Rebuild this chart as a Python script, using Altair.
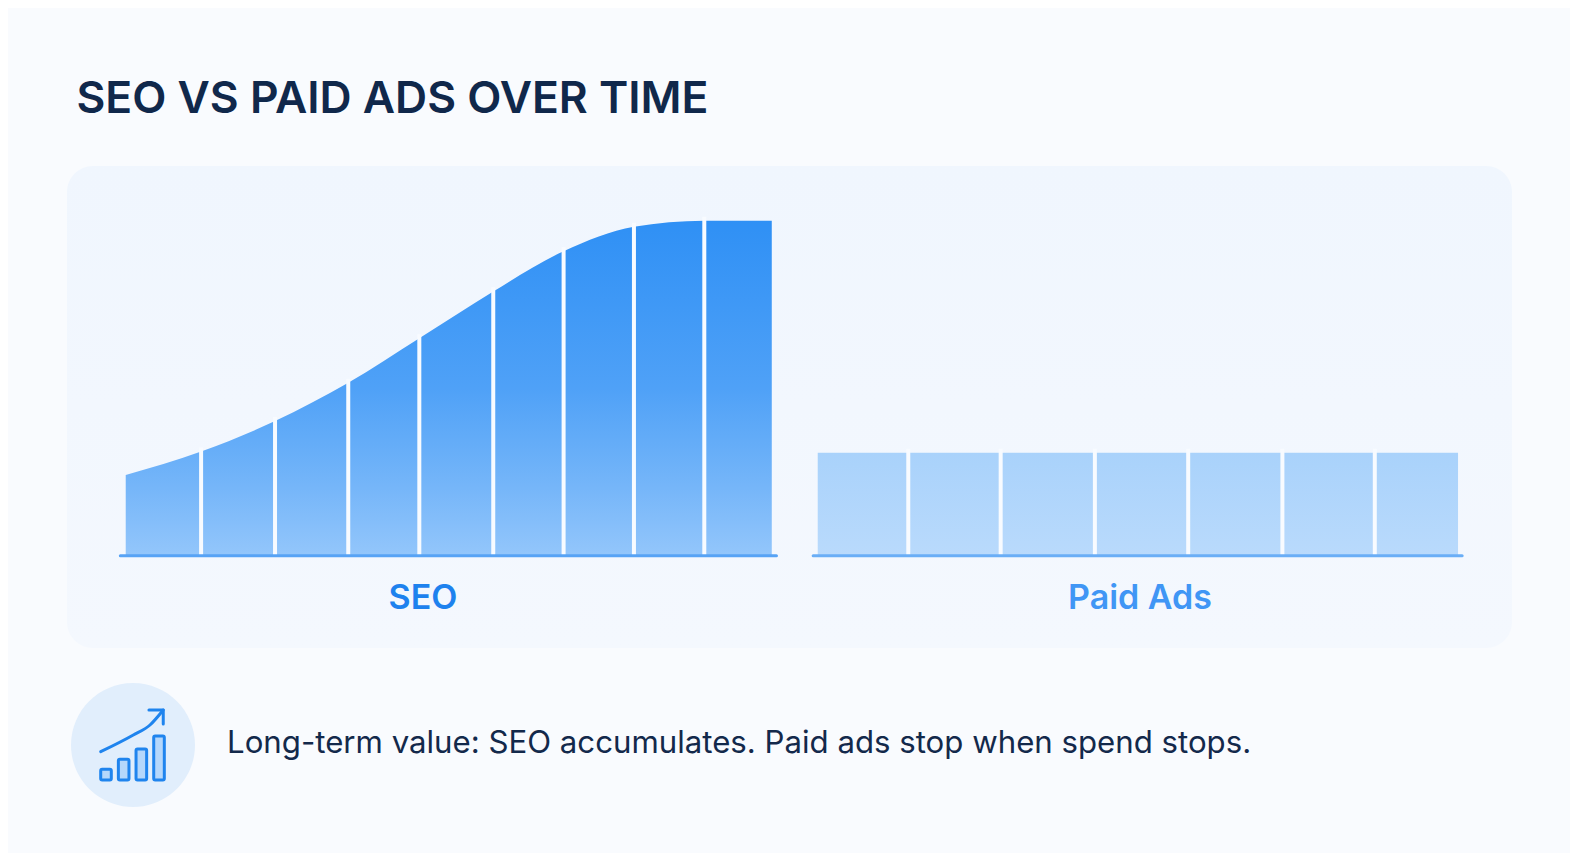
import altair as alt
import pandas as pd

W, H = 1562, 845
FONT = "Inter"

TITLE = "SEO VS PAID ADS OVER TIME"
CAPTION = "Long-term value: SEO accumulates. Paid ads stop when spend stops."
LABEL_SEO = "SEO"
LABEL_PAID = "Paid Ads"

# SEO cumulative value (% of peak) read at each divider between 9 periods
seo_t = [0, 1.05, 2.08, 3.10, 4.09, 5.12, 6.10, 7.08, 8.06, 9]
seo_v = [24.1, 31.1, 40.2, 51.6, 64.9, 78.9, 90.9, 98.2, 100, 100]

# Paid ads flat value across 7 periods
paid_t = [0, 0.99, 2.0, 3.03, 4.05, 5.08, 6.09, 7]
paid_v = [30.7, 30.7, 30.7, 30.7, 30.7, 30.7, 30.7, 30.7]

# Icon: four little bars and a rising arrow
icon_i = [0, 1, 2, 3]
icon_h = [10.7, 20.7, 31, 44]
arrow_x = [0, 1.845, 2.79, 3.54]
arrow_y = [28.3, 45, 55, 70]
head_x = [2.73, 3.54, 3.54]
head_y = [70, 70, 56]

seo = pd.DataFrame({"t": seo_t, "v": seo_v, "base": 0})
paid = pd.DataFrame({"t": paid_t, "v": paid_v, "base": 0})
icon = pd.DataFrame({"i": icon_i, "h": icon_h, "base": 0})
arrow = pd.DataFrame({"x": arrow_x, "y": arrow_y})
head = pd.DataFrame({"x": head_x, "y": head_y})

x_seo = alt.Scale(domain=[-1.64, 20.12])
x_paid = alt.Scale(domain=[-8.852, 8.224])
x_icon = alt.Scale(domain=[-5.246, 83.15])
y_val = alt.Scale(domain=[-88.75, 163.49])
y_icon = alt.Scale(domain=[-73, 772])


def grad(*stops):
    return alt.Gradient(
        gradient="linear", x1=0, x2=0, y1=0, y2=1,
        stops=[alt.GradientStop(offset=o, color=c) for o, c in stops],
    )


def box(x0, x1, y0, y1, **mark):
    return alt.Chart(pd.DataFrame({"a": [0]})).mark_rect(**mark).encode(
        x=alt.value(x0), x2=alt.value(x1), y=alt.value(y0), y2=alt.value(y1)
    )


def text(s, x, y, **mark):
    return alt.Chart(pd.DataFrame({"a": [0]})).mark_text(font=FONT, **mark).encode(
        x=alt.value(x), y=alt.value(y), text=alt.value(s)
    )


def area(df, xs, fill):
    return alt.Chart(df).mark_area(interpolate="monotone", color=fill).encode(
        x=alt.X("t:Q", scale=xs, axis=None),
        y=alt.Y("v:Q", scale=y_val, axis=None),
        y2="base:Q",
    )


def dividers(df, xs):
    inner = df.iloc[1:-1]
    return alt.Chart(inner).transform_calculate(top="datum.v + 1.2").mark_rule(
        color="#f8fbff", strokeWidth=4
    ).encode(
        x=alt.X("t:Q", scale=xs, axis=None),
        y=alt.Y("top:Q", scale=y_val, axis=None),
        y2="base:Q",
    )


def baseline(x0, x1, xs, color):
    df = pd.DataFrame({"s": [x0], "e": [x1], "base": [0]})
    return alt.Chart(df).mark_rule(color=color, strokeWidth=3, strokeCap="round").encode(
        x=alt.X("s:Q", scale=xs, axis=None),
        x2="e:Q",
        y=alt.Y("base:Q", scale=y_val, axis=None),
    )


icon_bars = alt.Chart(icon).transform_calculate(e="datum.i + 0.6").mark_rect(
    fill="#b5d7fb", stroke="#1f84ee", strokeWidth=3, cornerRadius=1.5
).encode(
    x=alt.X("i:Q", scale=x_icon, axis=None),
    x2="e:Q",
    y=alt.Y("h:Q", scale=y_icon, axis=None),
    y2="base:Q",
)

arrow_line = alt.Chart(arrow).mark_line(
    color="#1f84ee", strokeWidth=3, interpolate="monotone", strokeCap="round"
).encode(
    x=alt.X("x:Q", scale=x_icon, axis=None),
    y=alt.Y("y:Q", scale=y_icon, axis=None),
    order="x:Q",
)
arrow_head = alt.Chart(head.reset_index()).mark_line(
    color="#1f84ee", strokeWidth=3, strokeCap="round", strokeJoin="round"
).encode(
    x=alt.X("x:Q", scale=x_icon, axis=None),
    y=alt.Y("y:Q", scale=y_icon, axis=None),
    order="index:Q",
)

chart = alt.layer(
    box(59, 1504, 158, 640, cornerRadius=26, color=grad((0, "#f0f6fe"), (1, "#f4f8fe"))),
    text(TITLE, 68.5, 105, fontSize=44.4, fontWeight=600, color="#10284b", align="left", baseline="alphabetic"),
    area(seo, x_seo, grad((0, "#2f90f5"), (0.5, "#4fa1f7"), (0.8, "#76b6f9"), (1, "#93c6fb"))),
    dividers(seo, x_seo),
    area(paid, x_paid, grad((0, "#a9d2fb"), (1, "#b9dafc"))),
    dividers(paid, x_paid),
    baseline(-0.075, 9.065, x_seo, "#57a3f5"),
    baseline(-0.05, 7.045, x_paid, "#6aaef6"),
    text(LABEL_SEO, 415, 601, fontSize=34, fontWeight=600, color="#1e82ee", align="center", baseline="alphabetic"),
    text(LABEL_PAID, 1132, 601, fontSize=34, fontWeight=600, color="#4096f5", align="center", baseline="alphabetic"),
    box(63, 187, 675, 799, cornerRadius=62, color="#e1eefc"),
    icon_bars,
    arrow_line,
    arrow_head,
    text(CAPTION, 219, 745, fontSize=31.2, fontWeight=400, color="#13294b", align="left", baseline="alphabetic"),
).resolve_scale(x="independent", y="independent").properties(
    width=W, height=H, padding=0, background="#f9fbfe", autosize=alt.AutoSizeParams(type="none")
).configure_view(stroke=None)

chart.save("out.html", embed_options={"renderer": "svg", "actions": False})
